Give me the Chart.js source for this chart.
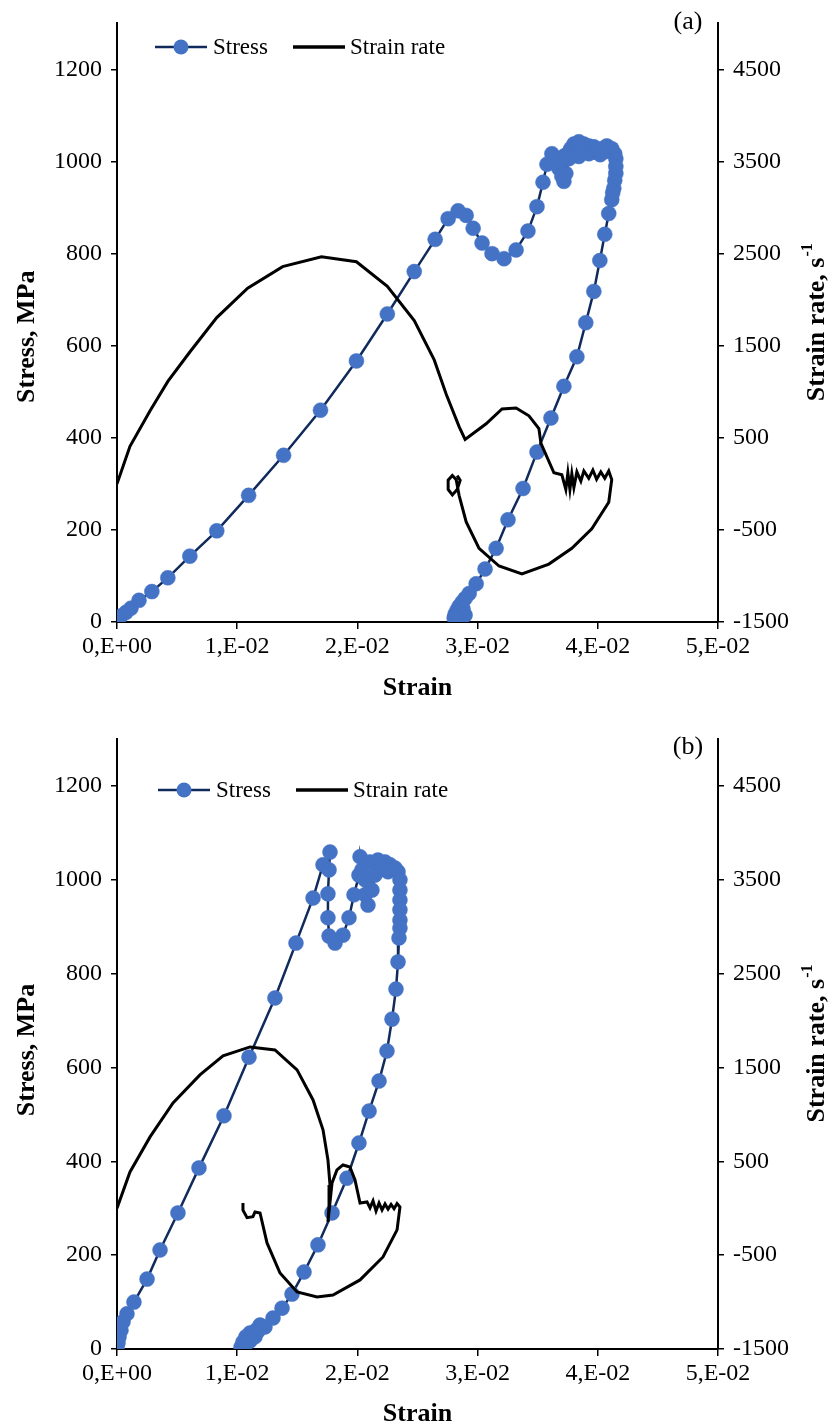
<!DOCTYPE html>
<html><head><meta charset="utf-8">
<script src="https://cdn.jsdelivr.net/npm/chart.js@4.4.1/dist/chart.umd.min.js"></script>
<style>
html,body{margin:0;padding:0;background:#fff;width:832px;height:1427px;overflow:hidden}
.wrap{position:absolute;left:0;width:832px}
#wa{top:0;height:713px}
#wb{top:713px;height:714px}
</style></head><body>
<div class="wrap" id="wa"><canvas id="ca"></canvas></div>
<div class="wrap" id="wb"><canvas id="cb"></canvas></div>
<script>
// ---- tick values / labels ----
const xTickValues = [0, 0.01, 0.02, 0.03, 0.04, 0.05];
const xTickLabels = ["0,E+00", "1,E-02", "2,E-02", "3,E-02", "4,E-02", "5,E-02"];
const stressTicks = [0, 200, 400, 600, 800, 1000, 1200];
const rateTicks = [-1500, -500, 500, 1500, 2500, 3500, 4500];
const seriesNames = ["Stress", "Strain rate"];

// ---- panel (a) ----
const stressA_strain = [0,0.00033,0.00075,0.00116,0.00183,0.0029,0.00423,0.00606,0.0083,0.01095,0.01386,0.01693,0.01992,0.02249,0.02473,0.02647,0.02755,0.02838,0.02905,0.02963,0.03037,0.0312,0.0322,0.0332,0.03419,0.03494,0.03544,0.03577,0.03618,
0.03651,0.03676,0.03701,0.03718,0.03734,0.03759,0.0368,0.0372,0.03776,0.03801,0.03842,0.0376,0.038,0.0385,0.03884,0.03925,0.03967,0.03884,0.03842,0.03925,0.0395,0.03992,0.0402,0.04033,0.04075,0.0407,0.04116,0.04141,0.0415,0.0415,0.0415,0.04141,0.04133,0.04124,0.04116,
0.04091,0.04058,0.04017,0.03967,0.039,0.03826,0.03718,0.0361,0.03494,0.03378,0.03253,0.03154,0.03062,0.02988,0.0293,0.02896,0.02871,0.02846,0.0283,0.02813,0.02805,0.0283,0.02863,0.02896,0.02879,0.02846,0.02821];
const stressA_MPa = [2,13,21,30,47,66,96,143,198,275,362,460,567,669,761,831,876,893,883,855,823,800,789,808,849,902,955,994,1017,
1002,985,968,957,974,1006,1000,1012,1028,1038,1043,1020,1015,1025,1038,1034,1032,1023,1011,1017,1020,1025,1015,1028,1034,1022,1028,1017,1006,989,974,959,942,932,917,
887,842,785,718,650,576,512,443,369,290,222,160,115,83,62,51,43,34,26,17,9,4,8,15,28,20,12];

const rateA_strain = [0,0.00108,0.00274,0.00423,0.00606,0.0083,0.01087,0.01378,0.01701,0.01992,0.02249,0.02473,0.02639,0.02739,0.02846,0.02896,0.03071,0.03203,0.0332,0.03427,0.0351,0.03527,0.03635,0.03701,
0.03734,0.03751,0.03768,0.03784,0.03801,0.03826,0.03859,0.03884,0.03925,0.03959,0.0399,0.04025,0.04058,0.04091,0.04116,
0.04091,0.0395,0.03784,0.03593,0.03369,0.03178,0.03012,0.02905,0.02846,0.02822,
0.0279,0.02755,0.02755,0.0279,0.0283,0.02855,0.0283];
const rateA_value = [0,408,792,1112,1432,1805,2124,2359,2466,2412,2146,1773,1346,973,621,483,653,813,824,739,600,440,120,99,
-60,120,-60,110,-40,130,30,140,60,150,50,130,60,140,46,
-200,-487,-700,-871,-978,-892,-700,-413,-125,46,
90,40,-60,-120,-60,40,90];

// ---- panel (b) ----
const stressB_strain = [0,0.00008,0.00017,0.00033,0.0005,0.00083,0.00141,0.0025,0.00358,0.00507,0.00682,0.0089,0.01098,0.01314,0.01489,0.01631,0.01714,0.01772,0.01764,0.01755,0.01755,0.01764,0.01814,0.0188,0.0193,0.01972,0.02013,0.02022,
0.02038,0.02063,0.02063,0.02088,0.02121,0.02146,0.02105,0.02171,0.0223,0.02271,0.02313,0.02188,0.02255,0.02338,0.02354,0.02354,0.02354,0.02354,0.02354,0.02354,
0.02346,0.02338,0.02321,0.02288,0.02246,0.0218,0.02097,0.02013,0.01913,0.01789,0.01672,0.01556,0.01456,0.01373,0.01298,0.01231,
0.0119,0.01156,0.01106,0.01073,0.01048,0.01032,0.01065,0.01106,0.01148,0.01173];
const stressB_MPa = [0,13,26,40,58,75,100,149,211,290,386,497,622,748,865,961,1032,1059,1021,970,919,880,865,882,919,968,1010,1049,
1021,1000,968,946,978,1010,1038,1042,1038,1032,1025,1021,1017,1017,1000,978,957,936,914,897,
876,825,767,703,635,571,507,439,364,290,222,164,117,87,66,47,
51,40,34,26,15,4,8,17,26,38];

const rateB_strain = [0,0.00108,0.00275,0.00466,0.0069,0.00882,0.01107,0.01314,0.01498,0.01631,0.01714,0.01755,0.01772,0.01764,0.01755,
0.01789,0.0183,0.0188,0.01938,0.0198,0.02022,0.0208,0.02105,0.0213,0.02155,0.0218,0.02205,0.0223,0.02255,0.0228,0.02305,0.0233,0.02354,
0.0233,0.02213,0.02022,0.01797,0.01664,0.01498,0.01356,0.01248,0.0119,0.01148,0.01131,0.01082,0.01048,0.01048];
const rateB_value = [0,387,760,1122,1421,1623,1719,1687,1474,1154,835,515,248,35,-146,
270,408,461,440,302,56,67,3,78,-29,56,-18,45,-10,40,-5,50,14,
-231,-519,-764,-924,-946,-892,-690,-370,-50,-40,-90,-100,-20,55];

const toXY = (xs, ys) => xs.map((x, i) => ({x: x, y: ys[i]}));

const SERIF = '"Liberation Serif", "Times New Roman", serif';
const STRESS_LINE = '#102a5c';
const STRESS_DOT = '#4472C4';

const overlay = {
  id: 'overlay',
  afterDraw(chart, args, o) {
    const ctx = chart.ctx;
    const ca = chart.chartArea;
    ctx.save();
    // panel label
    ctx.fillStyle = '#000';
    ctx.font = '26px ' + SERIF;
    ctx.textAlign = 'center';
    ctx.textBaseline = 'middle';
    ctx.fillText(o.panel, o.panelX, o.panelY);
    // legend
    const ly = o.legendY;
    ctx.lineWidth = 2.5;
    ctx.strokeStyle = STRESS_LINE;
    ctx.beginPath(); ctx.moveTo(o.lx1, ly); ctx.lineTo(o.lx1 + 52, ly); ctx.stroke();
    ctx.fillStyle = STRESS_DOT;
    ctx.beginPath(); ctx.arc(o.lx1 + 26, ly, 7.5, 0, Math.PI * 2); ctx.fill();
    ctx.fillStyle = '#000';
    ctx.font = '23px ' + SERIF;
    ctx.textAlign = 'left';
    ctx.fillText(seriesNames[0], o.lx1 + 58, ly + 1);
    ctx.lineWidth = 3.5;
    ctx.strokeStyle = '#000';
    ctx.beginPath(); ctx.moveTo(o.lx2, ly); ctx.lineTo(o.lx2 + 52, ly); ctx.stroke();
    ctx.fillText(seriesNames[1], o.lx2 + 57, ly + 1);
    // left axis title (reads bottom to top)
    ctx.save();
    ctx.font = 'bold 26px ' + SERIF;
    ctx.textAlign = 'center';
    ctx.textBaseline = 'middle';
    ctx.translate(o.ltX, (ca.top + ca.bottom) / 2 + o.ltShift);
    ctx.rotate(-Math.PI / 2);
    ctx.fillText('Stress, MPa', 0, 0);
    ctx.restore();
    // right axis title (reads bottom to top)
    const main = 'Strain rate, s';
    const sup = '-1';
    ctx.font = 'bold 26px ' + SERIF;
    const w1 = ctx.measureText(main).width;
    ctx.font = 'bold 16px ' + SERIF;
    const w2 = ctx.measureText(sup).width;
    const tot = w1 + w2;
    ctx.translate(o.rtX, (ca.top + ca.bottom) / 2);
    ctx.rotate(-Math.PI / 2);
    ctx.textAlign = 'left';
    ctx.textBaseline = 'middle';
    ctx.font = 'bold 26px ' + SERIF;
    ctx.fillText(main, -tot / 2, 0);
    ctx.font = 'bold 16px ' + SERIF;
    ctx.fillText(sup, -tot / 2 + w1 + 1, -9);
    ctx.restore();
  }
};

function makeChart(canvasId, stressData, rateData, cfg) {
  const tickFont = {family: SERIF, size: 24};
  return new Chart(document.getElementById(canvasId), {
    type: 'scatter',
    data: {
      datasets: [
        {
          label: seriesNames[1],
          data: rateData,
          yAxisID: 'y1',
          showLine: true,
          borderColor: '#000',
          borderWidth: 3,
          pointRadius: 0,
          pointHoverRadius: 0,
          tension: 0,
          fill: false,
          order: 0
        },
        {
          label: seriesNames[0],
          data: stressData,
          yAxisID: 'y',
          showLine: true,
          borderColor: STRESS_LINE,
          borderWidth: 2.5,
          pointRadius: 7.5,
          pointBackgroundColor: STRESS_DOT,
          pointBorderColor: STRESS_DOT,
          pointBorderWidth: 0.5,
          tension: 0,
          fill: false,
          order: 1
        }
      ]
    },
    options: {
      responsive: true,
      maintainAspectRatio: false,
      animation: false,
      devicePixelRatio: 1,
      layout: {padding: {top: cfg.top, left: 0, right: 0, bottom: 0}},
      plugins: {
        legend: {display: false},
        tooltip: {enabled: false},
        overlay: cfg.overlay
      },
      scales: {
        x: {
          type: 'linear',
          position: 'bottom',
          min: 0, max: 0.05,
          afterBuildTicks: s => { s.ticks = xTickValues.map(v => ({value: v})); },
          afterFit: s => { s.height = cfg.xHeight; },
          ticks: {
            font: tickFont, color: '#000', padding: 3, maxRotation: 0, autoSkip: false,
            callback: (v) => xTickLabels[xTickValues.indexOf(v)]
          },
          grid: {drawOnChartArea: false, drawTicks: true, tickLength: 7, color: '#000', lineWidth: 1.5},
          border: {display: true, color: '#000', width: 2},
          title: {
            display: true, text: 'Strain', color: '#000',
            font: {family: SERIF, size: 26, weight: 'bold', lineHeight: 1},
            padding: {top: 0, bottom: cfg.xTitlePad}
          }
        },
        y: {
          type: 'linear',
          position: 'left',
          min: 0, max: 1300,
          afterBuildTicks: s => { s.ticks = stressTicks.map(v => ({value: v})); },
          afterFit: s => { s.width = 117; },
          ticks: {font: tickFont, color: '#000', padding: 9, callback: v => String(v)},
          grid: {drawOnChartArea: false, drawTicks: true, tickLength: 6, color: '#000', lineWidth: 1.5},
          border: {display: true, color: '#000', width: 2},
          title: {display: false}
        },
        y1: {
          type: 'linear',
          position: 'right',
          min: -1500, max: 5000,
          afterBuildTicks: s => { s.ticks = rateTicks.map(v => ({value: v})); },
          afterFit: s => { s.width = 114; },
          ticks: {font: tickFont, color: '#000', padding: 9, callback: v => String(v)},
          grid: {drawOnChartArea: false, drawTicks: true, tickLength: 6, color: '#000', lineWidth: 1.5},
          border: {display: true, color: '#000', width: 2},
          title: {display: false}
        }
      }
    },
    plugins: [overlay]
  });
}

makeChart('ca', toXY(stressA_strain, stressA_MPa), toXY(rateA_strain, rateA_value), {
  top: 13, xHeight: 91, xTitlePad: 12,
  overlay: {panel: '(a)', panelX: 688, panelY: 22, legendY: 47, lx1: 155, lx2: 293, rtX: 817, ltX: 27, ltShift: 14}
});
makeChart('cb', toXY(stressB_strain, stressB_MPa), toXY(rateB_strain, rateB_value), {
  top: 26, xHeight: 78, xTitlePad: 0,
  overlay: {panel: '(b)', panelX: 688, panelY: 34, legendY: 77, lx1: 158, lx2: 296, rtX: 817, ltX: 27, ltShift: 6}
});
</script>
</body></html>
